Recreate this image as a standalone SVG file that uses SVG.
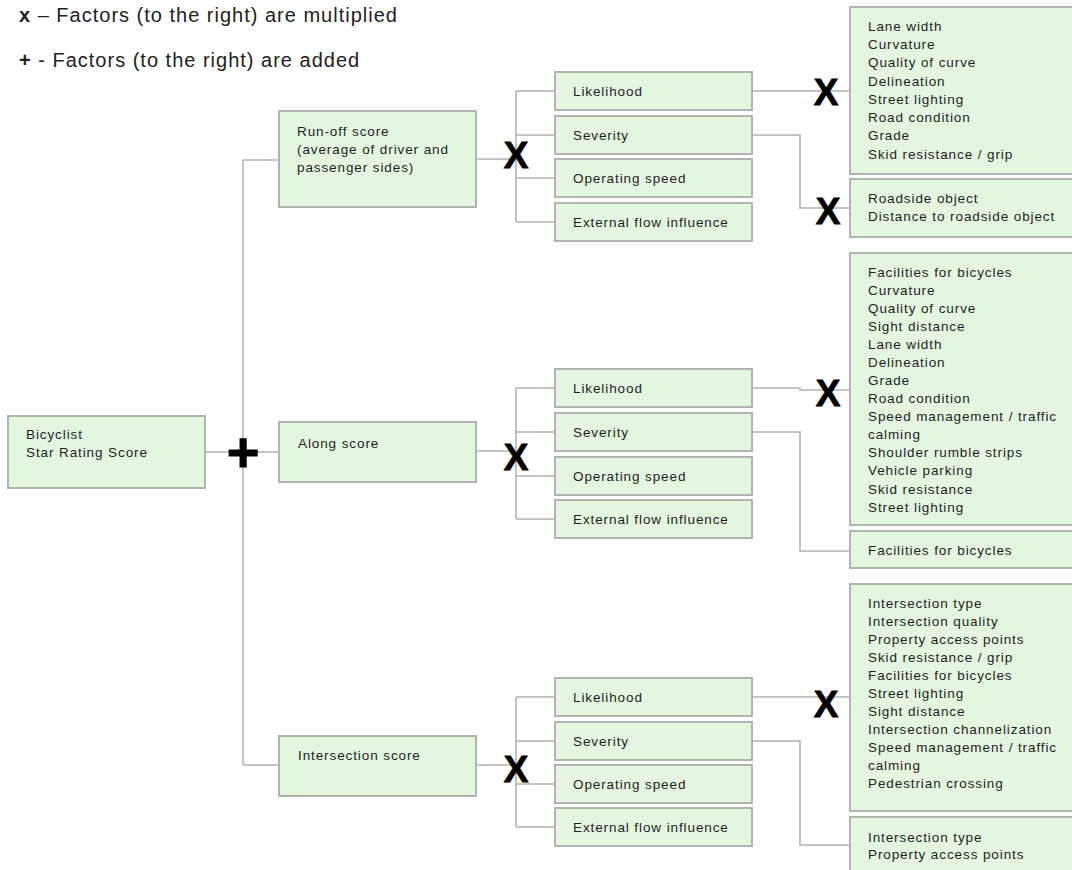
<svg xmlns="http://www.w3.org/2000/svg" width="1072" height="870" viewBox="0 0 1072 870">
<style>
.box{fill:#e3f6de;stroke:#b3b3b3;stroke-width:2}
.t{font-family:"Liberation Sans",Arial,sans-serif;font-size:13.5px;letter-spacing:0.9px;fill:#1e1e28}
.leg{font-family:"Liberation Sans",Arial,sans-serif;font-size:20px;letter-spacing:1px;fill:#222}
.op{font-family:"Liberation Sans",Arial,sans-serif;font-size:37px;font-weight:bold;fill:#000;stroke:#000;stroke-width:0.8;text-anchor:middle}
.ln{fill:none;stroke:#b3b3b3;stroke-width:1.6}
</style>
<rect width="1072" height="870" fill="#fff"/>
<g id="legend">
<text class="leg" x="19" y="22"><tspan font-weight="bold">x</tspan> – Factors (to the right) are multiplied</text>
<text class="leg" x="19" y="67"><tspan font-weight="bold">+</tspan> - Factors (to the right) are added</text>
</g>
<g id="connectors">
<path class="ln" d="M243,160 V765 M243,160 H279 M205,452 H279 M243,765 H279"/>
<path class="ln" d="M476,159 H516 M516,91 V222 M516,91 H555 M516,135 H555 M516,178 H555 M516,222 H555 M752,91 H850 M752,135 H800 V208 H850"/>
<path class="ln" d="M476,451 H516 M516,388 V519 M516,388 H555 M516,432 H555 M516,476 H555 M516,519 H555 M752,388 H800 V390 H850 M752,432 H800 V551 H850"/>
<path class="ln" d="M476,765 H516 M516,697 V827 M516,697 H555 M516,741 H555 M516,784 H555 M516,827 H555 M752,697 H850 M752,741 H800 V845 H850"/>
</g>
<g id="operators">
<text x="243" y="471" font-family="Liberation Sans,Arial,sans-serif" font-size="56" font-weight="bold" stroke="#000" stroke-width="1" text-anchor="middle">+</text>
<text class="op" x="516" y="168">X</text>
<text class="op" x="826" y="105">X</text>
<text class="op" x="828" y="224">X</text>
<text class="op" x="516" y="470">X</text>
<text class="op" x="828" y="406">X</text>
<text class="op" x="516" y="782">X</text>
<text class="op" x="826" y="717">X</text>
</g>
<g id="bicyclist">
<rect class="box" x="8" y="416" width="197" height="72"/>
<text class="t" x="26" y="439">Bicyclist</text>
<text class="t" x="26" y="457">Star Rating Score</text>
</g>
<g id="runoff">
<rect class="box" x="279" y="111" width="197" height="96"/>
<text class="t" x="297" y="136">Run-off score</text>
<text class="t" x="297" y="154">(average of driver and</text>
<text class="t" x="297" y="172">passenger sides)</text>
</g>
<g id="along">
<rect class="box" x="279" y="422" width="197" height="60"/>
<text class="t" x="298" y="448">Along score</text>
</g>
<g id="intersection">
<rect class="box" x="279" y="736" width="197" height="60"/>
<text class="t" x="298" y="760">Intersection score</text>
</g>
<g id="runoff-likelihood"><rect class="box" x="555" y="72" width="197" height="38"/><text class="t" x="573" y="96">Likelihood</text></g>
<g id="runoff-severity"><rect class="box" x="555" y="116" width="197" height="38"/><text class="t" x="573" y="140">Severity</text></g>
<g id="runoff-speed"><rect class="box" x="555" y="159" width="197" height="38"/><text class="t" x="573" y="183">Operating speed</text></g>
<g id="runoff-flow"><rect class="box" x="555" y="203" width="197" height="38"/><text class="t" x="573" y="227">External flow influence</text></g>
<g id="along-likelihood"><rect class="box" x="555" y="369" width="197" height="38"/><text class="t" x="573" y="393">Likelihood</text></g>
<g id="along-severity"><rect class="box" x="555" y="413" width="197" height="38"/><text class="t" x="573" y="437">Severity</text></g>
<g id="along-speed"><rect class="box" x="555" y="457" width="197" height="38"/><text class="t" x="573" y="481">Operating speed</text></g>
<g id="along-flow"><rect class="box" x="555" y="500" width="197" height="38"/><text class="t" x="573" y="524">External flow influence</text></g>
<g id="int-likelihood"><rect class="box" x="555" y="678" width="197" height="38"/><text class="t" x="573" y="702">Likelihood</text></g>
<g id="int-severity"><rect class="box" x="555" y="722" width="197" height="38"/><text class="t" x="573" y="746">Severity</text></g>
<g id="int-speed"><rect class="box" x="555" y="765" width="197" height="38"/><text class="t" x="573" y="789">Operating speed</text></g>
<g id="int-flow"><rect class="box" x="555" y="808" width="197" height="38"/><text class="t" x="573" y="832">External flow influence</text></g>
<g id="runoff-likelihood-factors">
<rect class="box" x="850" y="7" width="240" height="167"/>
<text class="t" x="868" y="31">Lane width</text>
<text class="t" x="868" y="49">Curvature</text>
<text class="t" x="868" y="67">Quality of curve</text>
<text class="t" x="868" y="86">Delineation</text>
<text class="t" x="868" y="104">Street lighting</text>
<text class="t" x="868" y="122">Road condition</text>
<text class="t" x="868" y="140">Grade</text>
<text class="t" x="868" y="159">Skid resistance / grip</text>
</g>
<g id="runoff-severity-factors">
<rect class="box" x="850" y="179" width="240" height="58"/>
<text class="t" x="868" y="203">Roadside object</text>
<text class="t" x="868" y="221">Distance to roadside object</text>
</g>
<g id="along-likelihood-factors">
<rect class="box" x="850" y="253" width="240" height="272"/>
<text class="t" x="868" y="277">Facilities for bicycles</text>
<text class="t" x="868" y="295">Curvature</text>
<text class="t" x="868" y="313">Quality of curve</text>
<text class="t" x="868" y="331">Sight distance</text>
<text class="t" x="868" y="349">Lane width</text>
<text class="t" x="868" y="367">Delineation</text>
<text class="t" x="868" y="385">Grade</text>
<text class="t" x="868" y="403">Road condition</text>
<text class="t" x="868" y="421">Speed management / traffic</text>
<text class="t" x="868" y="439">calming</text>
<text class="t" x="868" y="457">Shoulder rumble strips</text>
<text class="t" x="868" y="475">Vehicle parking</text>
<text class="t" x="868" y="494">Skid resistance</text>
<text class="t" x="868" y="512">Street lighting</text>
</g>
<g id="along-severity-factors">
<rect class="box" x="850" y="531" width="240" height="37"/>
<text class="t" x="868" y="555">Facilities for bicycles</text>
</g>
<g id="int-likelihood-factors">
<rect class="box" x="850" y="584" width="240" height="227"/>
<text class="t" x="868" y="608">Intersection type</text>
<text class="t" x="868" y="626">Intersection quality</text>
<text class="t" x="868" y="644">Property access points</text>
<text class="t" x="868" y="662">Skid resistance / grip</text>
<text class="t" x="868" y="680">Facilities for bicycles</text>
<text class="t" x="868" y="698">Street lighting</text>
<text class="t" x="868" y="716">Sight distance</text>
<text class="t" x="868" y="734">Intersection channelization</text>
<text class="t" x="868" y="752">Speed management / traffic</text>
<text class="t" x="868" y="770">calming</text>
<text class="t" x="868" y="788">Pedestrian crossing</text>
</g>
<g id="int-severity-factors">
<rect class="box" x="850" y="817" width="240" height="70"/>
<text class="t" x="868" y="842">Intersection type</text>
<text class="t" x="868" y="859">Property access points</text>
</g>
</svg>
